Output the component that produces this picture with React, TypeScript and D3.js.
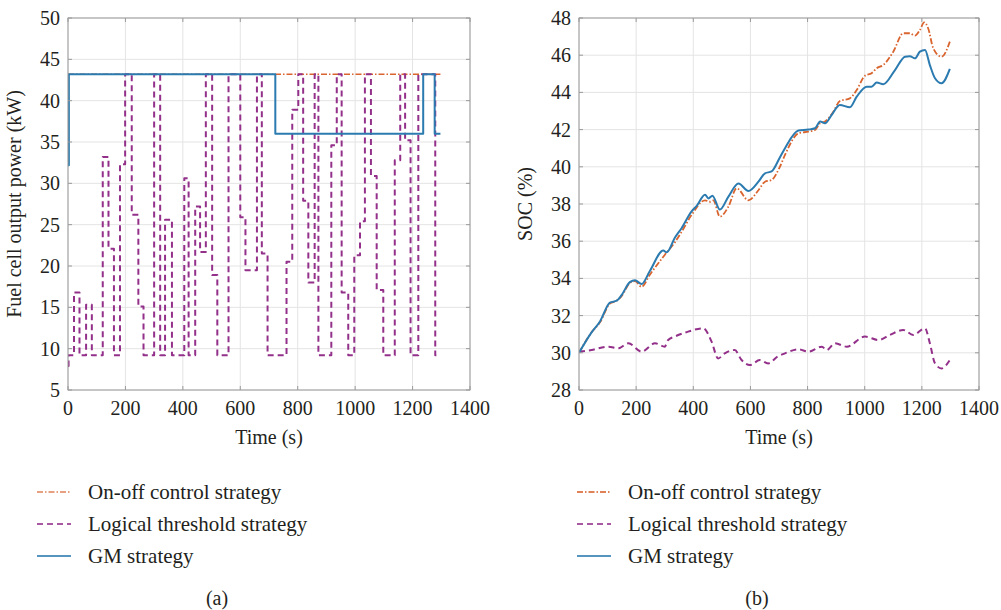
import React from 'react';
import * as d3 from 'd3';

// x axis (both panels)
const timeTicks = [0, 200, 400, 600, 800, 1000, 1200, 1400];
const powerTicks = [5, 10, 15, 20, 25, 30, 35, 40, 45, 50];
const socTicks = [28, 30, 32, 34, 36, 38, 40, 42, 44, 46, 48];

const seriesNames = ['On-off control strategy', 'Logical threshold strategy', 'GM strategy'];
const seriesColors = ['#d9642e', '#93308a', '#2b7bb0'];

// (a) fuel cell output power, kW (step signals)
const onoffPowerTime = [0, 1297];
const onoffPower = [43.2, 43.2];

const gmPowerTime = [0, 3, 722, 1237, 1277, 1297];
const gmPower = [32.2, 43.2, 36, 43.2, 36, 36];

const ltPowerTime = [0, 2, 21, 40, 63, 83, 121, 141, 160, 181, 199, 222, 245, 263, 300, 321, 338, 362, 405, 420,
  443, 460, 480, 502, 520, 559, 600, 618, 658, 675, 695, 761, 781, 802, 819, 837, 859, 872, 917, 936,
  953, 976, 997, 1017, 1034, 1055, 1075, 1098, 1138, 1157, 1174, 1193, 1220, 1279, 1296];
const ltPower = [7.9, 9.2, 16.8, 9.2, 15.3, 9.2, 33.2, 22.1, 9.2, 32.3, 43.2, 26.2, 15.1, 9.2, 43.2, 9.2, 25.6, 9.2, 30.6, 9.2,
  27.2, 21.7, 43.2, 18.9, 9.2, 43.2, 25.9, 19.5, 43.2, 21.5, 9.2, 20.5, 38.9, 43.2, 27.9, 18.0, 43.2, 9.2, 34.6, 43.2,
  16.8, 9.2, 21.3, 25.4, 43.2, 30.9, 17.1, 9.2, 32.8, 43.2, 35.2, 9.2, 43.2, 9.2, 9.2];

// (b) SOC, %
const gmSocTime = [0, 44, 74, 108, 132, 149, 178, 196, 219, 248, 295, 307, 336, 359, 394, 412, 441, 453, 467, 493,
  523, 558, 593, 628, 651, 674, 703, 721, 768, 803, 826, 844, 861, 884, 913, 948, 972, 1007, 1024, 1042,
  1065, 1106, 1141, 1158, 1176, 1193, 1211, 1228, 1246, 1269, 1298];
const gmSoc = [30.0, 31.1, 31.7, 32.7, 32.8, 33.1, 33.8, 33.9, 33.7, 34.4, 35.5, 35.4, 36.2, 36.7, 37.6, 37.9, 38.5, 38.3, 38.45, 37.7,
  38.4, 39.1, 38.7, 39.2, 39.65, 39.75, 40.5, 41.0, 41.95, 42.0, 42.07, 42.43, 42.34, 42.78, 43.32, 43.2, 43.77, 44.31, 44.31, 44.53,
  44.44, 45.2, 45.92, 45.95, 45.83, 46.19, 46.28, 45.47, 44.76, 44.49, 45.26];

const onoffSocTime = [0, 44, 74, 108, 132, 149, 178, 196, 219, 248, 300, 336, 359, 394, 441, 458, 470, 493, 523, 552,
  593, 628, 651, 674, 703, 721, 768, 803, 826, 844, 861, 890, 913, 948, 972, 1001, 1024, 1042, 1065, 1100,
  1135, 1158, 1176, 1193, 1208, 1222, 1240, 1269, 1298];
const onoffSoc = [30.0, 31.1, 31.65, 32.65, 32.8, 33.05, 33.75, 33.85, 33.55, 34.2, 35.26, 35.95, 36.5, 37.41, 38.2, 38.12, 38.2, 37.32, 37.86, 38.84,
  38.2, 38.74, 39.2, 39.29, 40.0, 40.64, 41.8, 41.89, 41.98, 42.34, 42.43, 42.96, 43.54, 43.68, 44.13, 44.9, 45.03, 45.3, 45.47, 46.19,
  47.18, 47.18, 47.05, 47.35, 47.77, 47.45, 46.37, 45.92, 46.73];

const ltSocTime = [0, 44, 103, 138, 173, 219, 266, 300, 312, 335, 382, 435, 464, 487, 510, 545, 569, 598, 633, 662,
  695, 721, 768, 803, 850, 867, 896, 937, 1001, 1048, 1088, 1135, 1170, 1211, 1228, 1246, 1269, 1298];
const ltSoc = [30.05, 30.15, 30.33, 30.24, 30.51, 30.06, 30.51, 30.33, 30.69, 30.87, 31.14, 31.32, 30.6, 29.7, 29.97, 30.15, 29.61, 29.34, 29.61, 29.43,
  29.8, 29.97, 30.19, 30.06, 30.33, 30.15, 30.51, 30.33, 30.87, 30.69, 30.96, 31.23, 30.96, 31.32, 30.51, 29.43, 29.16, 29.61];

const FONT = '"Liberation Serif", "DejaVu Serif", serif';
const TEXT = '#231f20';

type Series = { t: number[]; v: number[]; color: string; dash: string; width: number; curve: d3.CurveFactory };

function Panel(props: {
  left: number; right: number; top: number; bottom: number;
  yDomain: [number, number]; yTicks: number[]; yLabel: string;
  series: Series[]; caption: string; legendX: number; captionX: number;
}) {
  const { left, right, top, bottom, yDomain, yTicks, yLabel, series, caption, legendX, captionX } = props;
  const x = d3.scaleLinear().domain([0, 1400]).range([left, right]);
  const y = d3.scaleLinear().domain(yDomain).range([bottom, top]);
  const cx = (left + right) / 2;

  return (
    <g>
      {/* grid */}
      {timeTicks.map(t => (
        <line key={'gx' + t} x1={x(t)} x2={x(t)} y1={top} y2={bottom} stroke="#e4e4e4" strokeWidth={1} />
      ))}
      {yTicks.map(v => (
        <line key={'gy' + v} x1={left} x2={right} y1={y(v)} y2={y(v)} stroke="#e4e4e4" strokeWidth={1} />
      ))}

      {/* data */}
      <defs>
        <clipPath id={'clip' + caption}>
          <rect x={left} y={top - 2} width={right - left} height={bottom - top + 4} />
        </clipPath>
      </defs>
      <g clipPath={`url(#clip${caption})`}>
        {series.map((s, i) => {
          const pts: [number, number][] = s.t.map((t, j) => [t, s.v[j]]);
          const path = d3.line<[number, number]>()
            .x(d => x(d[0]))
            .y(d => y(d[1]))
            .curve(s.curve)(pts);
          return (
            <path key={i} d={path || ''} fill="none" stroke={s.color} strokeWidth={s.width}
              strokeDasharray={s.dash} strokeLinejoin="round" />
          );
        })}
      </g>

      {/* frame and ticks */}
      <rect x={left} y={top} width={right - left} height={bottom - top} fill="none" stroke="#9a9a9a" strokeWidth={1} />
      {timeTicks.map(t => (
        <g key={'tx' + t}>
          <line x1={x(t)} x2={x(t)} y1={bottom} y2={bottom - 4} stroke="#9a9a9a" />
          <line x1={x(t)} x2={x(t)} y1={top} y2={top + 4} stroke="#9a9a9a" />
          <text x={x(t)} y={bottom + 25} textAnchor="middle" fontFamily={FONT} fontSize={20} fill={TEXT}>{t}</text>
        </g>
      ))}
      {yTicks.map(v => (
        <g key={'ty' + v}>
          <line x1={left} x2={left + 4} y1={y(v)} y2={y(v)} stroke="#9a9a9a" />
          <line x1={right} x2={right - 4} y1={y(v)} y2={y(v)} stroke="#9a9a9a" />
          <text x={left - 8} y={y(v) + 7} textAnchor="end" fontFamily={FONT} fontSize={20} fill={TEXT}>{v}</text>
        </g>
      ))}

      <text x={cx} y={bottom + 54} textAnchor="middle" fontFamily={FONT} fontSize={20} fill={TEXT}>Time (s)</text>
      <text transform={`translate(${left - 47},${(top + bottom) / 2}) rotate(-90)`} textAnchor="middle"
        fontFamily={FONT} fontSize={20} fill={TEXT}>{yLabel}</text>

      {/* legend */}
      {seriesNames.map((name, i) => {
        const ly = 492 + i * 32;
        const s = series[i];
        return (
          <g key={name}>
            <line x1={legendX} x2={legendX + 34} y1={ly} y2={ly} stroke={s.color} strokeWidth={s.width}
              strokeDasharray={s.dash} opacity={0.8} />
            <text x={legendX + 51} y={ly + 7} fontFamily={FONT} fontSize={21} fill={TEXT}>{name}</text>
          </g>
        );
      })}
      <text x={captionX} y={605} textAnchor="middle" fontFamily={FONT} fontSize={20} fill={TEXT}>({caption})</text>
    </g>
  );
}

export default function App() {
  const powerSeries: Series[] = [
    { t: onoffPowerTime, v: onoffPower, color: seriesColors[0], dash: '6 2 1.5 2', width: 1.5, curve: d3.curveStepAfter },
    { t: ltPowerTime, v: ltPower, color: seriesColors[1], dash: '6 4', width: 2, curve: d3.curveStepAfter },
    { t: gmPowerTime, v: gmPower, color: seriesColors[2], dash: '', width: 2, curve: d3.curveStepAfter },
  ];
  const socSeries: Series[] = [
    { t: onoffSocTime, v: onoffSoc, color: seriesColors[0], dash: '6 2 1.5 2', width: 1.8, curve: d3.curveMonotoneX },
    { t: ltSocTime, v: ltSoc, color: seriesColors[1], dash: '6 4', width: 2, curve: d3.curveMonotoneX },
    { t: gmSocTime, v: gmSoc, color: seriesColors[2], dash: '', width: 2, curve: d3.curveMonotoneX },
  ];

  // on-off drawn first so the GM line covers it where they coincide
  return (
    <svg width={1001} height={610} style={{ position: 'absolute', left: 0, top: 0, background: '#fff' }}>
      <Panel left={68} right={470} top={18} bottom={390} yDomain={[5, 50]} yTicks={powerTicks}
        yLabel="Fuel cell output power (kW)" series={powerSeries} caption="a"
        legendX={37} captionX={217} />
      <Panel left={579} right={979} top={18} bottom={390} yDomain={[28, 48]} yTicks={socTicks}
        yLabel="SOC (%)" series={socSeries} caption="b"
        legendX={577} captionX={757} />
    </svg>
  );
}
